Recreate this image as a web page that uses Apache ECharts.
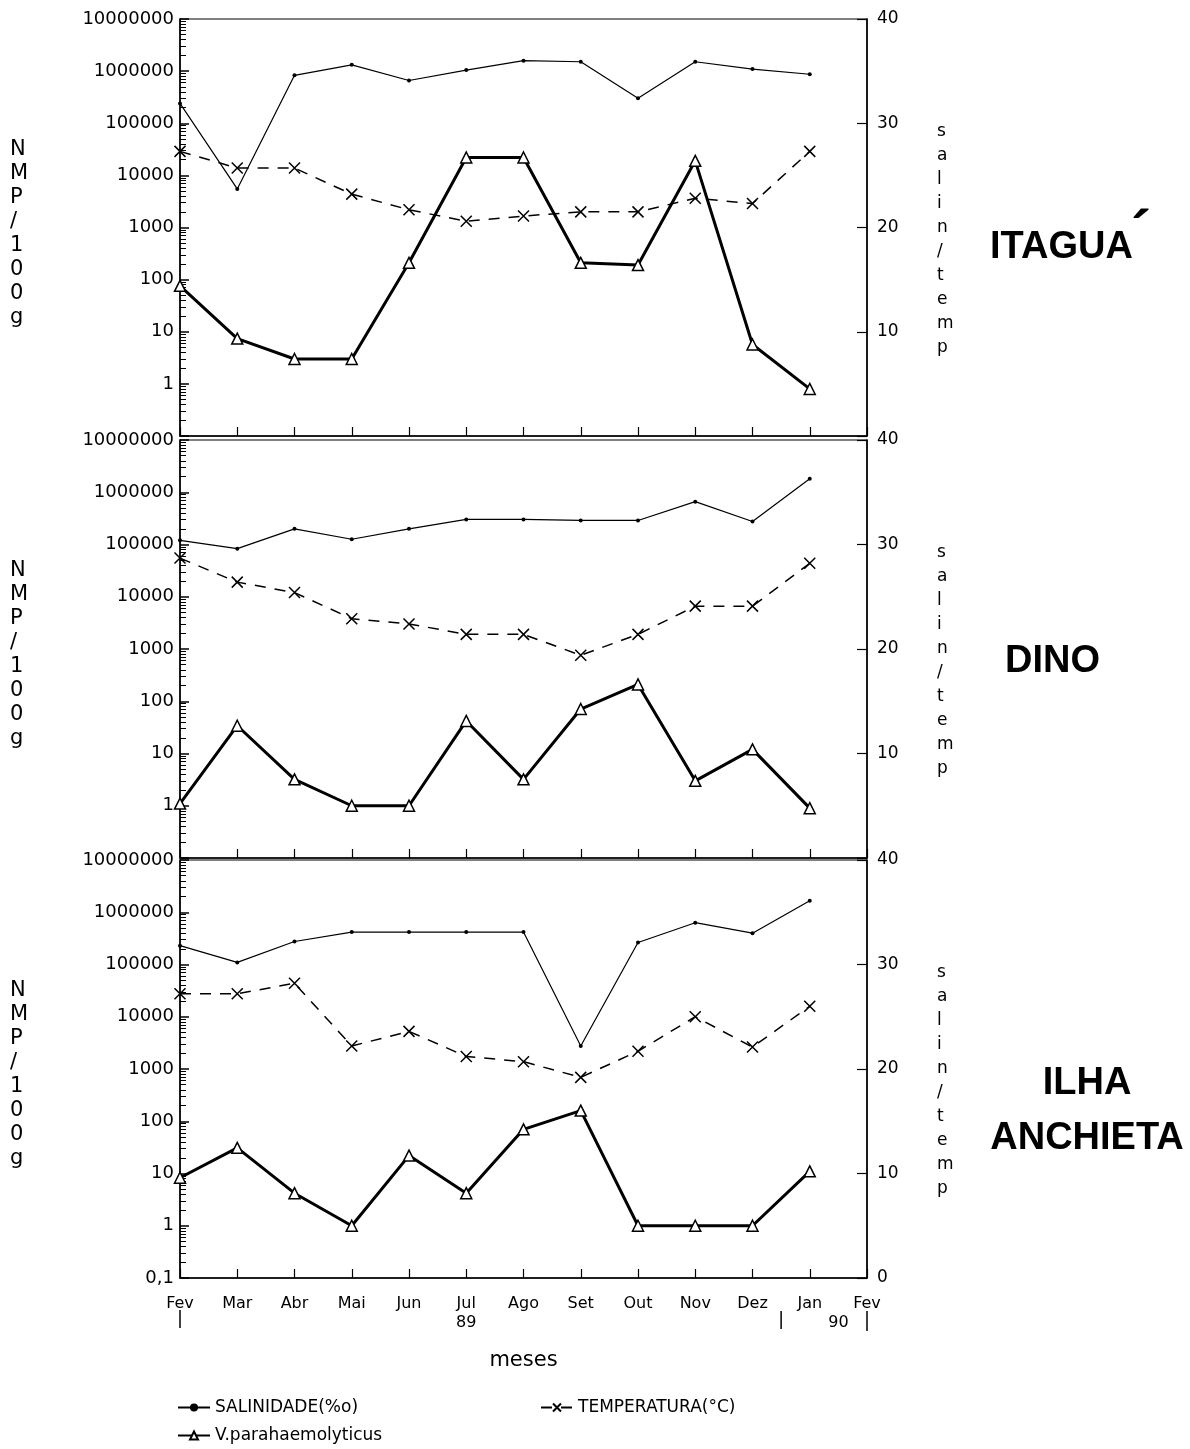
<!DOCTYPE html>
<html>
<head>
<meta charset="utf-8">
<script src="https://cdn.jsdelivr.net/npm/echarts@6/dist/echarts.min.js"></script>
<style>
html, body { margin: 0; padding: 0; background: #fff; }
#chart { width: 1190px; height: 1449px; }
</style>
</head>
<body>
<div id="chart"></div>
<script>
// months, Fev/89 .. Fev/90
var months = ['Fev', 'Mar', 'Abr', 'Mai', 'Jun', 'Jul', 'Ago', 'Set', 'Out', 'Nov', 'Dez', 'Jan', 'Fev'];
var stationNames = ['ITAGUA', 'DINO', 'ILHA\nANCHIETA'];

// salinidade (‰), right axis
var salItagua = [31.9, 23.7, 34.6, 35.6, 34.1, 35.1, 36.0, 35.9, 32.4, 35.9, 35.2, 34.7];
var salDino = [30.4, 29.6, 31.5, 30.5, 31.5, 32.4, 32.4, 32.3, 32.3, 34.1, 32.2, 36.3];
var salAnchieta = [31.8, 30.2, 32.2, 33.1, 33.1, 33.1, 33.1, 22.2, 32.1, 34.0, 33.0, 36.1];

// temperatura (°C), right axis
var tempItagua = [27.3, 25.7, 25.7, 23.2, 21.7, 20.6, 21.1, 21.5, 21.5, 22.8, 22.3, 27.3];
var tempDino = [28.7, 26.4, 25.4, 22.9, 22.4, 21.4, 21.4, 19.4, 21.4, 24.1, 24.1, 28.2];
var tempAnchieta = [27.2, 27.2, 28.2, 22.2, 23.6, 21.2, 20.7, 19.2, 21.7, 25.0, 22.1, 26.0];

// V.parahaemolyticus NMP/100g, left log axis
var vpItagua = [76, 7.4, 3, 3, 210, 22000, 22000, 210, 190, 19000, 5.7, 0.8];
var vpDino = [1.1, 34, 3.2, 1, 1, 42, 3.2, 71, 210, 3, 12, 0.9];
var vpAnchieta = [8.3, 31, 4.2, 1, 22, 4.2, 70, 160, 1, 1, 1, 11];

var salData = [salItagua, salDino, salAnchieta];
var tempData = [tempItagua, tempDino, tempAnchieta];
var vpData = [vpItagua, vpDino, vpAnchieta];

var SAL = 'SALINIDADE(%o)';
var TEMP = 'TEMPERATURA(°C)';
var VP = 'V.parahaemolyticus';
var FONT = 'DejaVu Sans';
var crossPath = 'path://M0,0L10,10M10,0L0,10';

var grids = [
  { left: 180, right: 323, top: 19, height: 417 },
  { left: 180, right: 323, top: 440, height: 418 },
  { left: 180, right: 323, top: 860, height: 418 }
];

var chart = echarts.init(document.getElementById('chart'));

var xAxes = [], yAxes = [], series = [];
grids.forEach(function(g, i) {
  var last = i === grids.length - 1;
  g.show = true;
  g.borderColor = '#000';
  g.borderWidth = 1.2;
  xAxes.push({
    gridIndex: i,
    type: 'category',
    data: months,
    boundaryGap: false,
    axisLine: { lineStyle: { color: '#000', width: 1.5 } },
    axisTick: { inside: true, length: 9, lineStyle: { color: '#000', width: 1.2 } },
    axisLabel: {
      show: last,
      color: '#000',
      fontFamily: FONT,
      fontSize: 16,
      margin: 16,
      lineHeight: 19,
      formatter: function(v, idx) { return idx === 5 ? v + '\n89' : v; }
    },
    name: last ? 'meses' : '',
    nameLocation: 'middle',
    nameGap: 72,
    nameTextStyle: { color: '#000', fontFamily: FONT, fontSize: 21 },
    splitLine: { show: false }
  });
  yAxes.push({
    gridIndex: i,
    type: 'log',
    logBase: 10,
    position: 'left',
    min: 0.1,
    max: 10000000,
    splitNumber: 8,
    axisLine: { show: true, lineStyle: { color: '#000', width: 1.5 } },
    axisTick: { show: true, inside: true, length: 9, lineStyle: { color: '#000', width: 1.5 } },
    minorTick: { show: true, splitNumber: 9, length: 6, lineStyle: { color: '#000', width: 1 } },
    axisLabel: {
      color: '#000',
      fontFamily: FONT,
      fontSize: 18,
      margin: 6,
      formatter: function(v) {
        if (v < 1) return last ? '0,1' : '';
        return String(Math.round(v));
      }
    },
    splitLine: { show: false }
  });
  yAxes.push({
    gridIndex: i,
    type: 'value',
    position: 'right',
    min: 0,
    max: 40,
    interval: 10,
    axisLine: { show: true, lineStyle: { color: '#000', width: 1.5 } },
    axisTick: { show: true, inside: true, length: 10, lineStyle: { color: '#000', width: 1.2 } },
    axisLabel: {
      color: '#000',
      fontFamily: FONT,
      fontSize: 17,
      margin: 10,
      formatter: function(v) { return (v === 0 && !last) ? '' : String(v); }
    },
    splitLine: { show: false }
  });

  series.push({
    name: SAL,
    type: 'line',
    xAxisIndex: i,
    yAxisIndex: 2 * i + 1,
    data: salData[i],
    symbol: 'circle',
    symbolSize: 4,
    itemStyle: { color: '#000' },
    lineStyle: { color: '#000', width: 1.2 },
    silent: true,
    z: 3
  });
  series.push({
    name: TEMP,
    type: 'line',
    xAxisIndex: i,
    yAxisIndex: 2 * i + 1,
    data: tempData[i],
    symbol: crossPath,
    symbolSize: 11,
    itemStyle: { color: '#000', borderColor: '#000', borderWidth: 1.5 },
    lineStyle: { color: '#000', width: 1.5, type: [11, 9] },
    silent: true,
    z: 3
  });
  series.push({
    name: VP,
    type: 'line',
    xAxisIndex: i,
    yAxisIndex: 2 * i,
    data: vpData[i],
    symbol: 'triangle',
    symbolSize: 11,
    itemStyle: { color: '#fff', borderColor: '#000', borderWidth: 1.5 },
    lineStyle: { color: '#000', width: 3 },
    silent: true,
    z: 4
  });
});

var legendText = { color: '#000', fontFamily: FONT, fontSize: 17 };
var legends = [
  { data: [SAL], left: 172, top: 1394 },
  { data: [TEMP], left: 535, top: 1394 },
  { data: [VP], left: 172, top: 1422 }
].map(function(l) {
  l.selectedMode = false;
  l.itemWidth = 32;
  l.itemHeight = 10;
  l.itemGap = 8;
  l.textStyle = legendText;
  return l;
});

chart.setOption({
  backgroundColor: '#fff',
  animation: false,
  grid: grids,
  xAxis: xAxes,
  yAxis: yAxes,
  legend: legends,
  series: series
});

// side texts and year marks, placed from the axes' own pixel scale
var graphic = [];
var vertNMP = 'NMP/100g'.split('').join('\n');
var vertSal = 'salin/temp'.split('').join('\n');
grids.forEach(function(g, i) {
  var mid = chart.convertToPixel({ yAxisIndex: 2 * i + 1 }, 20);
  graphic.push({
    type: 'text', left: 10, top: mid - 96 + 6,
    style: { text: vertNMP, font: '21px "DejaVu Sans"', fill: '#000', lineHeight: 24, align: 'center', width: 20 }
  });
  graphic.push({
    type: 'text', left: 937, top: mid - 120 + 12,
    style: { text: vertSal, font: '17px "DejaVu Sans"', fill: '#000', lineHeight: 24, align: 'center', width: 16 }
  });
});
var stationFont = 'bold 38px "Liberation Sans"';
var y1 = chart.convertToPixel({ yAxisIndex: 1 }, 20);
var y2 = chart.convertToPixel({ yAxisIndex: 3 }, 20);
var y3 = chart.convertToPixel({ yAxisIndex: 5 }, 20);
graphic.push({ type: 'text', x: 990, y: y1 + 20, style: { text: stationNames[0], font: stationFont, fill: '#000', verticalAlign: 'middle' } });
graphic.push({ type: 'text', x: 1131, y: y1 + 8, style: { text: '´', font: 'bold 60px "Liberation Sans"', fill: '#000', verticalAlign: 'middle' } });
graphic.push({ type: 'text', x: 1005, y: y2 + 13, style: { text: stationNames[1], font: stationFont, fill: '#000', verticalAlign: 'middle' } });
graphic.push({ type: 'text', x: 1087, y: y3 + 42, style: { text: stationNames[2], font: stationFont, fill: '#000', align: 'center', verticalAlign: 'middle', lineHeight: 55 } });

var xStart = chart.convertToPixel({ xAxisIndex: 2 }, 0);
var xDez = chart.convertToPixel({ xAxisIndex: 2 }, 10);
var xJan = chart.convertToPixel({ xAxisIndex: 2 }, 11);
var xEnd = chart.convertToPixel({ xAxisIndex: 2 }, 12);
var yBase = chart.convertToPixel({ yAxisIndex: 5 }, 0);
[[xStart, 32, 50], [(xDez + xJan) / 2, 33, 51], [xEnd, 33, 53]].forEach(function(m) {
  graphic.push({
    type: 'line',
    shape: { x1: m[0], y1: yBase + m[1], x2: m[0], y2: yBase + m[2] },
    style: { stroke: '#000', lineWidth: 1.5 }
  });
});
graphic.push({
  type: 'text', x: (xJan + xEnd) / 2, y: yBase + 45,
  style: { text: '90', font: '16px "DejaVu Sans"', fill: '#000', align: 'center', verticalAlign: 'middle' }
});

chart.setOption({ graphic: graphic });
</script>
</body>
</html>
